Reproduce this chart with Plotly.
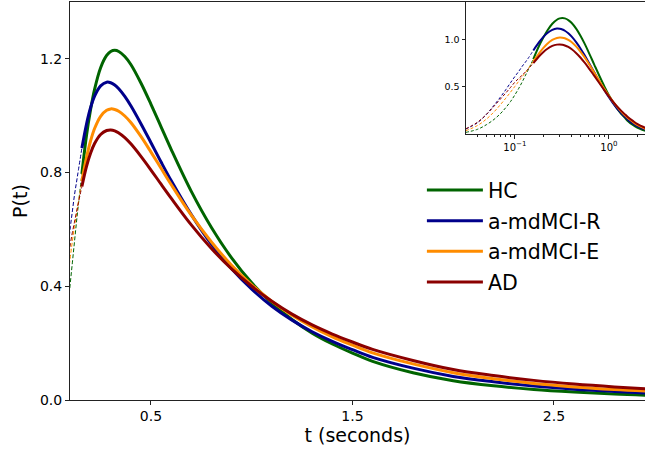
import plotly.graph_objects as go

# ---- data ----
series_names = ["HC", "a-mdMCI-R", "a-mdMCI-E", "AD"]
series_colors = ["#006400", "#00008B", "#FF8C00", "#8B0000"]

t_dash = [0.03, 0.04, 0.05, 0.06, 0.07, 0.08, 0.09, 0.10, 0.11, 0.12, 0.13, 0.14, 0.157]
hc_dash = [0.017, 0.05, 0.10, 0.155, 0.215, 0.28, 0.345, 0.415, 0.485, 0.555, 0.625, 0.69, 0.795]
mr_dash = [0.052, 0.12, 0.21, 0.305, 0.39, 0.47, 0.545, 0.61, 0.665, 0.72, 0.765, 0.81, 0.886]
me_dash = [0.035, 0.09, 0.16, 0.235, 0.31, 0.38, 0.445, 0.505, 0.56, 0.61, 0.655, 0.698, 0.77]
ad_dash = [0.055, 0.125, 0.21, 0.295, 0.37, 0.435, 0.495, 0.55, 0.59, 0.625, 0.66, 0.695, 0.751]

t_solid = [0.157, 0.18, 0.20, 0.22, 0.25, 0.28, 0.30, 0.32, 0.34, 0.37, 0.40, 0.45, 0.50,
           0.55, 0.60, 0.70, 0.80, 0.90, 1.0, 1.1, 1.2, 1.3, 1.4, 1.5, 1.6, 1.8, 2.0,
           2.2, 2.4, 2.6, 2.8, 3.0]
hc_solid = [0.795, 0.931, 1.021, 1.093, 1.169, 1.212, 1.226, 1.230, 1.226, 1.208, 1.180, 1.115, 1.040,
            0.961, 0.882, 0.734, 0.607, 0.500, 0.412, 0.341, 0.283, 0.235, 0.197, 0.165, 0.136, 0.096, 0.068,
            0.050, 0.037, 0.028, 0.021, 0.016]
mr_solid = [0.886, 0.971, 1.028, 1.069, 1.105, 1.118, 1.116, 1.108, 1.095, 1.068, 1.035, 0.972, 0.905,
            0.837, 0.772, 0.652, 0.548, 0.462, 0.390, 0.330, 0.281, 0.240, 0.206, 0.177, 0.150, 0.112, 0.083,
            0.064, 0.049, 0.038, 0.030, 0.023]
me_solid = [0.770, 0.853, 0.911, 0.955, 0.998, 1.019, 1.024, 1.022, 1.016, 0.999, 0.976, 0.927, 0.872,
            0.815, 0.758, 0.650, 0.556, 0.474, 0.405, 0.347, 0.298, 0.257, 0.222, 0.193, 0.166, 0.127, 0.096,
            0.075, 0.058, 0.046, 0.037, 0.030]
ad_solid = [0.751, 0.822, 0.868, 0.902, 0.934, 0.948, 0.950, 0.947, 0.939, 0.923, 0.901, 0.857, 0.809,
            0.759, 0.710, 0.616, 0.533, 0.461, 0.400, 0.347, 0.302, 0.264, 0.232, 0.204, 0.178, 0.139, 0.107,
            0.086, 0.069, 0.056, 0.046, 0.038]

x_ticks_main = [0.5, 1.5, 2.5]
y_ticks_main = [0.0, 0.4, 0.8, 1.2]
x_ticks_inset = [0.1, 1.0]
x_ticklabels_inset = ["10<sup>\u22121</sup>", "10<sup>0</sup>"]
y_ticks_inset = [0.5, 1.0]

dash_vals = [hc_dash, mr_dash, me_dash, ad_dash]
solid_vals = [hc_solid, mr_solid, me_solid, ad_solid]

FONT = "DejaVu Sans"
fig = go.Figure()

for i, name in enumerate(series_names):
    c = series_colors[i]
    # main axes
    fig.add_trace(go.Scatter(x=t_dash, y=dash_vals[i], mode="lines", line=dict(color=c, width=1, dash="4px,2px", shape="spline"),
                             showlegend=False, legendgroup=name, hoverinfo="skip", xaxis="x", yaxis="y"))
    fig.add_trace(go.Scatter(x=t_solid, y=solid_vals[i], mode="lines", line=dict(color=c, width=3, shape="spline"),
                             name=name, legendgroup=name, xaxis="x", yaxis="y"))
    # inset axes
    fig.add_trace(go.Scatter(x=t_dash, y=dash_vals[i], mode="lines", line=dict(color=c, width=1, dash="3px,2px", shape="spline"),
                             showlegend=False, legendgroup=name, hoverinfo="skip", xaxis="x2", yaxis="y2"))
    fig.add_trace(go.Scatter(x=t_solid, y=solid_vals[i], mode="lines", line=dict(color=c, width=2, shape="spline"),
                             showlegend=False, legendgroup=name, xaxis="x2", yaxis="y2"))

axis_common = dict(showgrid=False, zeroline=False, showline=True, linecolor="#222", linewidth=1,
                   ticks="outside", tickcolor="#222", tickwidth=1)

fig.update_layout(
    width=645, height=450,
    margin=dict(l=70, r=0, t=2, b=50),
    paper_bgcolor="white", plot_bgcolor="white",
    font=dict(family=FONT, color="black"),
    xaxis=dict(domain=[0, 1], range=[0.098, 2.952], tickvals=x_ticks_main, tickformat=".1f",
               ticklen=3.5, mirror=True, tickfont=dict(size=14),
               title=dict(text="t (seconds)", font=dict(size=19), standoff=5), **axis_common),
    yaxis=dict(domain=[0, 1], range=[0, 1.40], tickvals=y_ticks_main, tickformat=".1f",
               ticklen=4, tickfont=dict(size=14),
               title=dict(text="P(t)", font=dict(size=19), standoff=7), **axis_common),
    xaxis2=dict(domain=[0.6887, 1], anchor="y2", type="log", range=[-1.52, 0.384],
                tickvals=x_ticks_inset, ticktext=x_ticklabels_inset, ticklen=3.5, mirror=True,
                tickfont=dict(size=10),
                minor=dict(tickvals=[0.04, 0.05, 0.06, 0.07, 0.08, 0.09, 0.2, 0.3, 0.4, 0.5, 0.6, 0.7, 0.8, 0.9, 2.0],
                           ticklen=2, tickcolor="#222", ticks="outside"),
                **axis_common),
    yaxis2=dict(domain=[0.6683, 1], anchor="x2", range=[0, 1.40], tickvals=y_ticks_inset, tickformat=".1f",
                ticklen=3.5, mirror=True, tickfont=dict(size=9.5), **axis_common),
    legend=dict(x=0.612, y=0.5775, xanchor="left", yanchor="top", bgcolor="rgba(0,0,0,0)",
                font=dict(size=20.5, family=FONT), traceorder="grouped", tracegroupgap=1,
                itemwidth=56),
    showlegend=True,
)

fig.write_html("out.html", config={"displayModeBar": False},
               post_script="document.body.style.margin='0';document.body.style.padding='0';document.body.style.overflow='hidden';")
